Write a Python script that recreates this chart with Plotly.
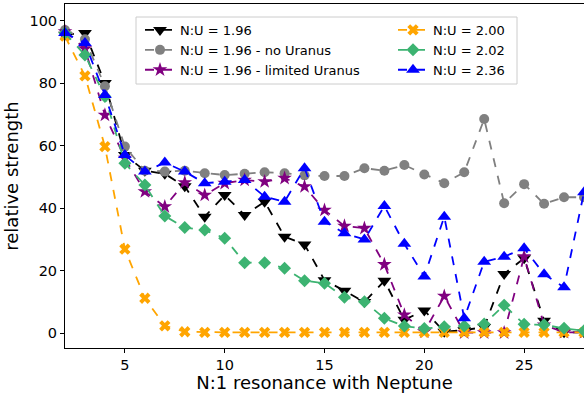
import plotly.graph_objects as go

# N:1 resonance order with Neptune
resonance = list(range(2, 29))

# relative strength per simulation setup
nu_196 = [95.5, 96, 80, 57, 52, 51, 47, 37.3, 44.2, 37.8, 42.1, 30.9, 28.4, 17, 13.6,
          10, 16.8, 4.3, 7.3, 0.5, 1, 2, 19, 24, 4, 0.3, 0.3]
nu_196_no_uranus = [97, 94, 79, 59.7, 52, 51.7, 52, 51.2, 50.6, 51, 51.5, 51.2, 50.5, 50.3,
                    50.3, 52.8, 52, 53.8, 50.8, 48, 51.5, 68.5, 41.6, 47.7, 41.4, 43.5, 43.5]
nu_196_limited_uranus = [96.5, 91, 69.8, 56, 45.3, 40.5, 48.2, 44.2, 48, 49, 48.5, 49.6, 46.9,
                         39.4, 34.3, 33.6, 22, 5.9, 0.5, 11.9, 0.2, 0.2, 0.2, 24.5, 2.7, 0.3, 0.3]
nu_200 = [95, 82.3, 59.7, 26.9, 11.2, 2.4, 0.5, 0.3, 0.3, 0.3, 0.3, 0.3, 0.3, 0.3, 0.3,
          0.3, 0.3, 0.3, 0.3, 0.3, 0.3, 0.3, 0.3, 0.3, 0.3, 0.3, 0.3]
nu_202 = [96, 89, 75.7, 54.4, 47.4, 37.5, 33.8, 33, 30.4, 22.6, 22.6, 20.8, 16.8, 16, 11.5,
          10.1, 4.8, 2.3, 1.5, 2.1, 2.3, 3, 9, 2.9, 2.7, 1.6, 0.8]
nu_236 = [96, 92.8, 76.2, 57, 51.7, 54.6, 51.7, 48, 48.5, 49, 43.7, 42.1, 52.8, 35.7, 32,
          30, 40.7, 28.6, 18.2, 37.3, 4.8, 22.9, 24.5, 27.2, 18.9, 14.7, 45.1]

# name, values, colour, marker, marker size, legend column
series = [
    ("N:U = 1.96", nu_196, "black", "triangle-down", 12, "legend"),
    ("N:U = 1.96 - no Uranus", nu_196_no_uranus, "gray", "circle", 10, "legend"),
    ("N:U = 1.96 - limited Uranus", nu_196_limited_uranus, "purple", "star", 11, "legend"),
    ("N:U = 2.00", nu_200, "orange", "x", 10, "legend2"),
    ("N:U = 2.02", nu_202, "mediumseagreen", "diamond", 10, "legend2"),
    ("N:U = 2.36", nu_236, "blue", "triangle-up", 12, "legend2"),
]

fig = go.Figure()
for name, vals, color, symbol, size, leg in series:
    fig.add_trace(go.Scatter(
        x=resonance, y=vals, name=name, mode="lines+markers",
        line=dict(color=color, width=1.8, dash="dash"),
        marker=dict(color=color, symbol=symbol, size=size, line=dict(width=0)),
        legend=leg, cliponaxis=False,
    ))

axis_common = dict(
    showgrid=False, zeroline=False, showline=True, linecolor="black", linewidth=1,
    mirror=True, ticks="outside", ticklen=4, tickcolor="black",
    tickfont=dict(size=14.5, color="black"),
)

# plot area spans x 65..584 px and y 4..348 px
legend_common = dict(
    xref="paper", yref="paper", xanchor="left", yanchor="top",
    y=(348 - 15) / 344, font=dict(size=13, color="black"),
    bgcolor="rgba(0,0,0,0)", borderwidth=0, itemwidth=30, tracegroupgap=0,
)

fig.update_layout(
    width=584, height=393,
    margin=dict(l=65, r=0, t=4, b=45),
    paper_bgcolor="white", plot_bgcolor="white",
    font=dict(family="DejaVu Sans", color="black"),
    xaxis=dict(range=[2, 28], tickvals=[5, 10, 15, 20, 25],
               title=dict(text="N:1 resonance with Neptune", font=dict(size=18), standoff=7),
               **axis_common),
    yaxis=dict(range=[-4.7, 105.3], tickvals=[0, 20, 40, 60, 80, 100],
               title=dict(text="relative strength", font=dict(size=18), standoff=6),
               **axis_common),
    legend=dict(x=(140 - 65) / 519, **legend_common),
    legend2=dict(x=(393 - 65) / 519, **legend_common),
    shapes=[dict(
        type="rect", xref="paper", yref="paper", layer="above",
        x0=(136 - 65) / 519, x1=(517 - 65) / 519,
        y0=(348 - 84) / 344, y1=(348 - 17) / 344,
        line=dict(color="#cccccc", width=1), fillcolor="rgba(255,255,255,0.8)",
    )],
)

fig.write_html("out.html")
